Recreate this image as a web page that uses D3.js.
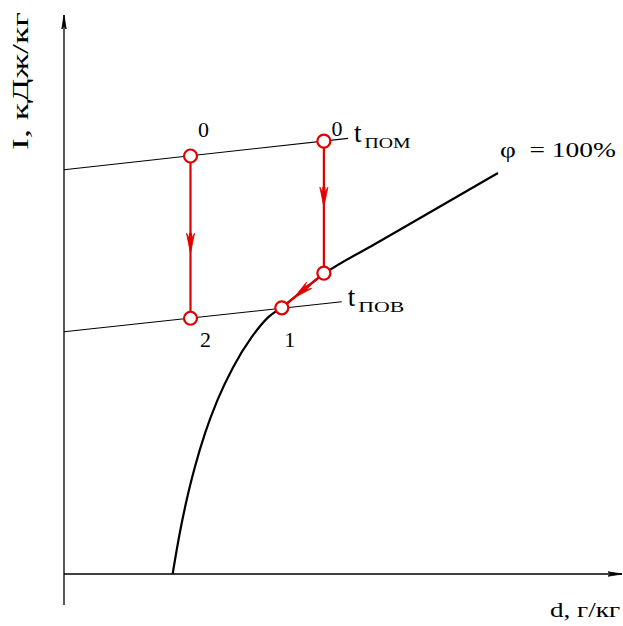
<!DOCTYPE html>
<html>
<head>
<meta charset="utf-8">
<script src="https://cdn.jsdelivr.net/npm/d3@7"></script>
<style>
  html, body { margin: 0; padding: 0; background: #fff; }
  svg { display: block; }
  text { font-family: "Liberation Serif", "Times New Roman", "DejaVu Serif", serif; fill: #000; }
</style>
</head>
<body>
<svg id="chart" width="623" height="626"></svg>
<script>
// ---------------- data ----------------
// φ = 100% saturation curve (d, g/kg ; I, kJ/kg – schematic units)
const curveD = [3.95, 4.21, 4.46, 4.76, 5.13, 5.58, 6.15, 6.83, 7.43, 7.92, 9.49, 11.31, 12.84, 15.78];
const curveI = [0.0, 7.45, 13.45, 19.45, 25.6, 31.6, 37.6, 43.1, 46.7, 48.5, 54.7, 60.0, 64.4, 72.9];

// state points
const stateLabels = ["0", "0", "", "1", "2"];
const stateD = [4.6, 9.45, 9.45, 7.92, 4.6];
const stateI = [76.0, 78.7, 54.7, 48.4, 46.5];

// processes (from index -> to index)
const processFrom = [0, 1, 2];
const processTo   = [4, 2, 3];

// isotherms
const isoNames  = ["пом", "пов"];
const isoStartD = [0, 0];
const isoStartI = [73.5, 44.05];
const isoEndD   = [10.33, 10.1];
const isoEndI   = [79.2, 49.5];

const curveLabel = "φ  = 100%";
const xTitle = "d, г/кг";
const yTitle = "I, кДж/кг";

// ---------------- layout / style ----------------
const RED = "#e00000";
const svg = d3.select("#chart");
const x = d3.scaleLinear().domain([0, 20]).range([64, 614]);
const y = d3.scaleLinear().domain([0, 100]).range([574, 24]);

// axes (plain lines with arrowheads, no ticks)
const xAxis = d3.axisBottom(x).tickValues([]).tickSizeOuter(0);
const yAxis = d3.axisLeft(y).tickValues([]).tickSizeOuter(0);

svg.append("g").attr("transform", `translate(0,${y(0)})`).call(xAxis)
  .call(g => g.select(".domain").attr("stroke", "#000").attr("stroke-width", 1.3)
    .attr("d", `M${x(0)},0H${x(20) + 8}`));
svg.append("g").attr("transform", `translate(${x(0)},0)`).call(yAxis)
  .call(g => g.select(".domain").attr("stroke", "#000").attr("stroke-width", 1.3)
    .attr("d", `M0,${y(0) + 31}V${y(100) - 9}`));

// arrowheads on the axes
function axisArrow(px, py, angle) {
  svg.append("path")
    .attr("d", "M0,0 L-14,-2.2 L-11,0 L-14,2.2 Z")
    .attr("transform", `translate(${px},${py}) rotate(${angle})`)
    .attr("fill", "#000").attr("stroke", "#000").attr("stroke-width", 0.8);
}
axisArrow(x(20) + 8, y(0), 0);
axisArrow(x(0), y(100) - 9, -90);

// axis titles
svg.append("text").attr("x", 550).attr("y", 617)
  .attr("font-size", 22).attr("textLength", 70).attr("lengthAdjust", "spacingAndGlyphs").text(xTitle);
svg.append("text")
  .attr("transform", `translate(28,150) rotate(-90)`)
  .attr("font-size", 23).attr("textLength", 138).attr("lengthAdjust", "spacingAndGlyphs")
  .text(yTitle);

// isotherms
isoNames.forEach((nm, i) => {
  svg.append("line")
    .attr("x1", x(isoStartD[i])).attr("y1", y(isoStartI[i]))
    .attr("x2", x(isoEndD[i])).attr("y2", y(isoEndI[i]))
    .attr("stroke", "#000").attr("stroke-width", 1.1);
  const tx = x(isoEndD[i]) + 6, ty = y(isoEndI[i]) + 4;
  const t = svg.append("text").attr("x", tx).attr("y", ty);
  t.append("tspan").attr("font-size", 27).text("t");
  t.append("tspan").attr("font-size", 21).attr("dx", 3).attr("dy", 6)
    .attr("textLength", 46).attr("lengthAdjust", "spacingAndGlyphs")
    .style("font-variant", "small-caps").text(nm);
});

// saturation curve
const curvePts = curveD.map((d, i) => [x(d), y(curveI[i])]);
svg.append("path")
  .attr("d", d3.line().curve(d3.curveMonotoneX)(curvePts))
  .attr("fill", "none").attr("stroke", "#000").attr("stroke-width", 2.2);
svg.append("text")
  .attr("x", x(curveD[curveD.length - 1]) + 2).attr("y", y(curveI[curveI.length - 1]) - 16)
  .attr("font-size", 21).attr("textLength", 116).attr("lengthAdjust", "spacingAndGlyphs")
  .attr("xml:space", "preserve").text(curveLabel);

// processes
const arrowFrac = [0.6, 0.5, 0.72];
processFrom.forEach((f, k) => {
  const t = processTo[k];
  const x1 = x(stateD[f]), y1 = y(stateI[f]), x2 = x(stateD[t]), y2 = y(stateI[t]);
  svg.append("line").attr("x1", x1).attr("y1", y1).attr("x2", x2).attr("y2", y2)
    .attr("stroke", RED).attr("stroke-width", 2.2);
  const ax = x1 + (x2 - x1) * arrowFrac[k], ay = y1 + (y2 - y1) * arrowFrac[k];
  const ang = Math.atan2(y2 - y1, x2 - x1) * 180 / Math.PI;
  svg.append("path")
    .attr("d", "M0,0 L-20,-4 L-15,-1.2 L-20,-1.2 L-20,1.2 L-15,1.2 L-20,4 Z")
    .attr("transform", `translate(${ax},${ay}) rotate(${ang})`)
    .attr("fill", RED).attr("stroke", RED).attr("stroke-width", 0.8);
});

// state points
const labelDx = [13, 13, 0, 8, 15];
const labelDy = [-19, -5, 0, 39, 29];
stateD.forEach((d, i) => {
  svg.append("circle").attr("cx", x(d)).attr("cy", y(stateI[i])).attr("r", 6.5)
    .attr("fill", "#fff").attr("stroke", RED).attr("stroke-width", 2.2);
  if (stateLabels[i]) {
    svg.append("text").attr("x", x(d) + labelDx[i]).attr("y", y(stateI[i]) + labelDy[i])
      .attr("text-anchor", "middle").attr("font-size", 22).text(stateLabels[i]);
  }
});
</script>
</body>
</html>
